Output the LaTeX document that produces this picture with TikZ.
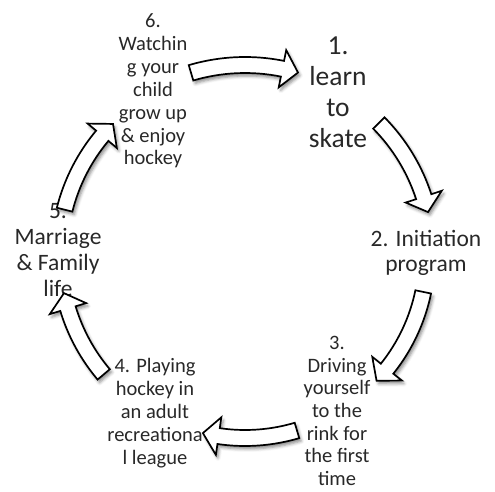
\documentclass[tikz,border=0pt]{standalone}
\usepackage{fontspec}
\setmainfont{Carlito}
\usetikzlibrary{shadows.blur}
\definecolor{txt}{RGB}{40,40,40}
\tikzset{
  lbl/.style={align=center, inner sep=0pt, text=txt},
  arrowshape/.style={draw=black, line width=1.7pt, fill=white, line join=miter,
    blur shadow={shadow xshift=2pt, shadow yshift=-3pt, shadow blur radius=3pt, shadow opacity=45}},
}
% #1 start angle, #2 tip angle, #3 radius
\newcommand{\cycarrow}[3]{%
  \pgfmathsetmacro\hb{#2+180*16/(3.14159*#3)}%
  \pgfmathsetmacro\ro{#3+8}\pgfmathsetmacro\ri{#3-8}%
  \pgfmathsetmacro\wo{#3+19}\pgfmathsetmacro\wi{#3-19}%
  \path[arrowshape] (#1:\ro pt) arc[start angle=#1, end angle=\hb, radius=\ro pt]
    -- (\hb:\wo pt) -- (#2:#3 pt) -- (\hb:\wi pt) -- (\hb:\ri pt)
    arc[start angle=\hb, end angle=#1, radius=\ri pt] -- cycle;}
\begin{document}
\begin{tikzpicture}[x=1pt,y=1pt]
\useasboundingbox (0,0) rectangle (495,491);
\coordinate (c) at (245,236);
% labels
\node[lbl, font=\fontsize{27.5}{31}\selectfont] (n1) at (338,399) {1.\\learn\\to\\skate};
\node[lbl, font=\fontsize{23.5}{25}\selectfont] (n2) at (426,238) {2. Initiation\\program};
\node[lbl, font=\fontsize{20.5}{22.7}\selectfont] (n3) at (337,80) {3.\\Driving\\yourself\\to the\\rink for\\the first\\time};
\node[lbl, font=\fontsize{20.5}{22.9}\selectfont] (n4) at (155,78) {4. Playing\\hockey in\\an adult\\recreationa\\l league};
\node[lbl, font=\fontsize{23.5}{26}\selectfont] (n5) at (58,241) {5.\\Marriage\\\& Family\\life};
\node[lbl, font=\fontsize{20.5}{22.9}\selectfont] (n6) at (153,400) {6.\\Watchin\\g your\\child\\grow up\\\& enjoy\\hockey};
% arrows
\begin{scope}[shift={(c)}]
\cycarrow{106.5}{73.8}{190}
\cycarrow{44.6}{13.2}{188}
\cycarrow{-11.7}{-43.7}{182}
\cycarrow{-73.5}{-103.3}{183}
\cycarrow{-139.8}{-168.1}{185}
\cycarrow{165.9}{135.2}{186}
\end{scope}
\end{tikzpicture}
\end{document}
